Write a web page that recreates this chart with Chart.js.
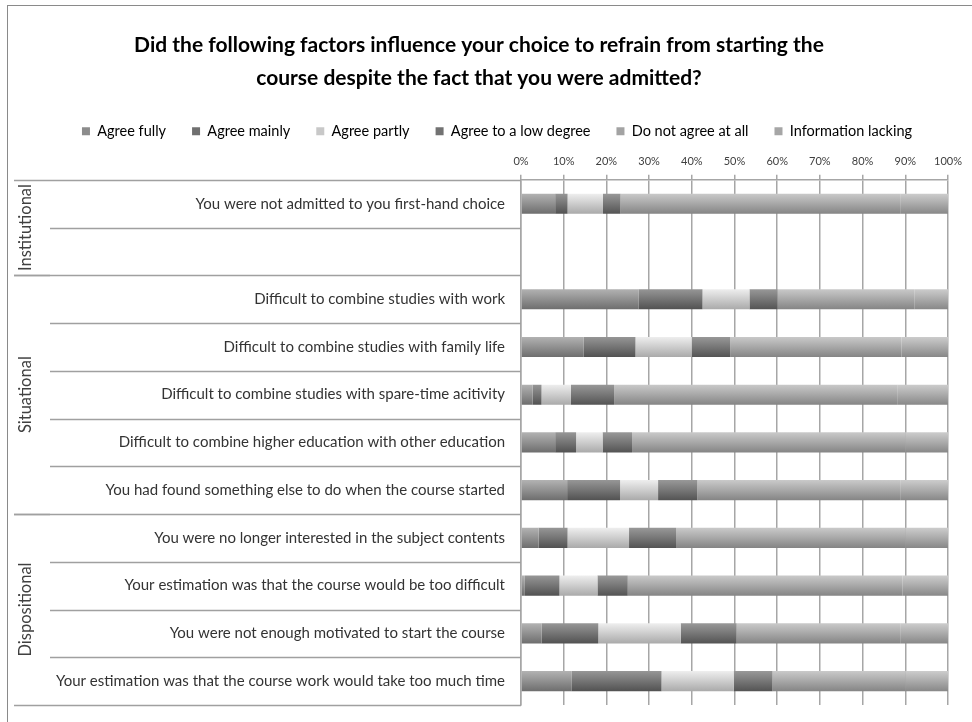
<!DOCTYPE html>
<html>
<head>
<meta charset="utf-8">
<script src="https://cdn.jsdelivr.net/npm/chart.js@4/dist/chart.umd.min.js"></script>
<style>
  html, body { margin: 0; padding: 0; background: #fff; }
  #wrap { position: relative; width: 972px; height: 722px; }
</style>
</head>
<body>
<div id="wrap"><canvas id="chart" width="972" height="722"></canvas></div>
<script>
// Factors influencing the choice not to start the course (stacked shares, %).
const categories = [
  "You were not admitted to you first-hand choice",
  "",
  "Difficult to combine studies with work",
  "Difficult to combine studies with family life",
  "Difficult to combine studies with spare-time acitivity",
  "Difficult to combine higher education with other education",
  "You had found something else to do when the course started",
  "You were no longer interested in the subject contents",
  "Your estimation was that the course would be too difficult",
  "You were not enough motivated to start the course",
  "Your estimation was that the course work would take too much time",
];
const groupNames = ["Institutional", "Situational", "Dispositional"];
const groupSizes = [2, 5, 4];

const seriesNames = ["Agree fully", "Agree mainly", "Agree partly", "Agree to a low degree", "Do not agree at all", "Information lacking"];
const agreeFully   = [8.0, null, 27.5, 14.7, 2.7, 8.0, 10.8, 4.1, 0.9, 4.8, 11.9];
const agreeMainly  = [2.9, null, 15.0, 12.1, 2.1, 4.9, 12.4, 6.8, 8.1, 13.3, 21.0];
const agreePartly  = [8.3, null, 11.0, 13.2, 6.9, 6.2, 8.9, 14.4, 8.9, 19.3, 16.9];
const agreeLow     = [4.1, null, 6.6, 9.0, 10.1, 6.9, 9.2, 11.0, 7.1, 13.1, 9.1];
const notAgree     = [65.5, null, 32.0, 40.1, 66.3, 64.0, 47.5, 53.8, 64.3, 38.3, 31.2];
const infoLacking  = [11.2, null, 7.9, 10.9, 11.9, 10.0, 11.2, 9.9, 10.7, 11.2, 9.9];
const xTicks = [0, 10, 20, 30, 40, 50, 60, 70, 80, 90, 100];

const seriesValues = [agreeFully, agreeMainly, agreePartly, agreeLow, notAgree, infoLacking];
const grays = [140, 112, 200, 114, 163, 166];

const FONT = "Lato, 'Open Sans', sans-serif";
const gray = (v) => `rgb(${v},${v},${v})`;
const clamp = (v) => Math.max(0, Math.min(255, Math.round(v)));

function barFill(level) {
  return (ctx) => {
    const chart = ctx.chart;
    const y = chart.scales && chart.scales.y;
    if (!y || ctx.type !== "data") return gray(level);
    const c = y.getPixelForValue(ctx.dataIndex);
    const g = chart.ctx.createLinearGradient(0, c - 10, 0, c + 10);
    g.addColorStop(0, gray(clamp(level + 38)));
    g.addColorStop(0.45, gray(clamp(level + 8)));
    g.addColorStop(1, gray(clamp(level - 30)));
    return g;
  };
}

// frame, category separators and rotated group labels
const decorations = {
  id: "decorations",
  afterLayout(chart) {
    // the legend sits a little right of centre in the original
    chart.legend.left += 18;
    chart.legend.right += 18;
  },
  beforeDraw(chart) {
    const c = chart.ctx;
    c.save();
    c.strokeStyle = "#8a8a8a";
    c.lineWidth = 1;
    c.strokeRect(7.5, 5.5, 1000, 800);
    c.restore();
  },
  afterDraw(chart) {
    const c = chart.ctx;
    const y = chart.scales.y;
    const left = chart.chartArea.left;
    const half = (y.getPixelForValue(1) - y.getPixelForValue(0)) / 2;
    c.save();
    c.strokeStyle = "#a0a0a0";
    c.lineWidth = 1.5;
    // boundaries between categories
    for (let i = 0; i <= categories.length; i++) {
      const py = Math.round(y.getPixelForValue(i) - half) + 0.5;
      c.beginPath();
      c.moveTo(50, py);
      c.lineTo(left, py);
      c.stroke();
    }
    // group boundaries + labels
    let start = 0;
    groupNames.forEach((name, gi) => {
      const end = start + groupSizes[gi];
      const top = y.getPixelForValue(start) - half;
      const bot = y.getPixelForValue(end - 1) + half;
      [top, bot].forEach((py) => {
        c.beginPath();
        c.moveTo(14, Math.round(py) + 0.5);
        c.lineTo(50, Math.round(py) + 0.5);
        c.stroke();
      });
      c.save();
      c.translate(26, (top + bot) / 2);
      c.rotate(-Math.PI / 2);
      c.fillStyle = "#404040";
      c.font = `16.5px ${FONT}`;
      c.textAlign = "center";
      c.textBaseline = "middle";
      c.fillText(name, 0, 0);
      c.restore();
      start = end;
    });
    c.restore();
  },
};

new Chart(document.getElementById("chart"), {
  type: "bar",
  data: {
    labels: categories,
    datasets: seriesValues.map((vals, i) => ({
      label: seriesNames[i],
      data: vals,
      backgroundColor: barFill(grays[i]),
      borderWidth: 0,
      barPercentage: 0.42,
      categoryPercentage: 1,
    })),
  },
  options: {
    indexAxis: "y",
    responsive: false,
    animation: false,
    layout: { padding: { left: 10, right: 24, top: 0, bottom: 7 } },
    scales: {
      x: {
        position: "top",
        stacked: true,
        min: 0,
        max: 100,
        afterBuildTicks: (s) => { s.ticks = xTicks.map((v) => ({ value: v })); },
        afterFit: (s) => { s.height -= 1; },
        ticks: { callback: (v) => v + "%", color: "#404040", font: { family: FONT, size: 11 }, padding: 7, maxRotation: 0 },
        grid: { color: "#a6a6a6", lineWidth: 1.5, tickLength: 5 },
        border: { color: "#a6a6a6", width: 1.5 },
      },
      y: {
        stacked: true,
        afterFit: (s) => { s.width = 511; },
        ticks: { color: "#333333", font: { family: FONT, size: 15 }, padding: 8, autoSkip: false },
        grid: { display: false },
        border: { color: "#a6a6a6", width: 1.5 },
      },
    },
    plugins: {
      title: {
        display: true,
        text: [
          "Did the following factors influence your choice to refrain from starting the",
          "course despite the fact that you were admitted?",
        ],
        color: "#000",
        font: { family: FONT, size: 21, weight: "bold", lineHeight: 1.55 },
        padding: { top: 29, bottom: 4 },
      },
      legend: {
        labels: {
          color: "#404040",
          font: { family: FONT, size: 14.5 },
          boxWidth: 8,
          boxHeight: 8,
          padding: 26,
          generateLabels: (chart) => chart.data.datasets.map((ds, i) => ({
            text: ds.label,
            fillStyle: gray(grays[i]),
            strokeStyle: gray(grays[i]),
            lineWidth: 0,
            datasetIndex: i,
          })),
        },
      },
      tooltip: { enabled: false },
    },
  },
  plugins: [decorations],
});
</script>
</body>
</html>
